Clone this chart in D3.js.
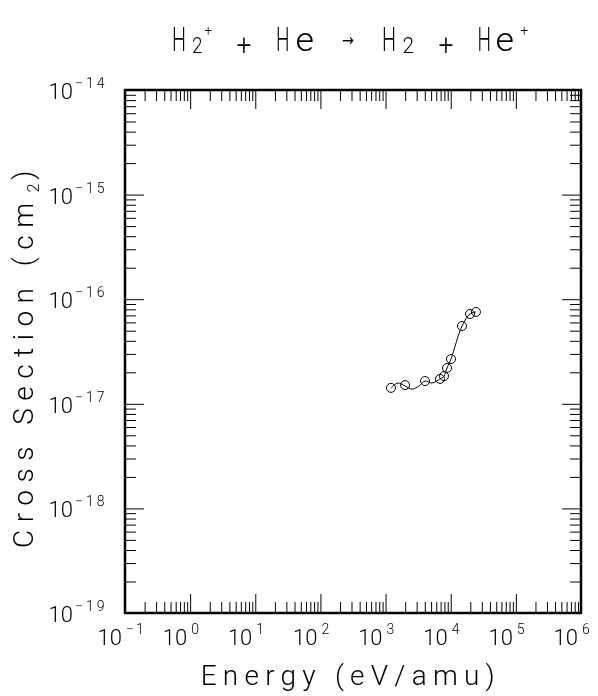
<!DOCTYPE html>
<html>
<head>
<meta charset="utf-8">
<script src="https://cdn.jsdelivr.net/npm/d3@7"></script>
<style>
  html, body { margin: 0; padding: 0; background: #fff; }
  #chart { will-change: transform; opacity: 0.999; }
  svg text { font-family: Roboto, "Liberation Sans", "DejaVu Sans", sans-serif; font-weight: 300; fill: #000; }
</style>
</head>
<body>
<svg id="chart" width="598" height="696"></svg>
<script>
// ---- data ----
const energies = [1.21e3, 1.99e3, 4.03e3, 6.85e3, 7.89e3, 8.78e3, 1.01e4, 1.49e4, 1.98e4, 2.44e4];
const crossSections = [1.42e-17, 1.51e-17, 1.65e-17, 1.73e-17, 1.84e-17, 2.2e-17, 2.68e-17, 5.54e-17, 7.22e-17, 7.55e-17];
// fitted curve drawn through the data
const fitEnergies = [1.21e3, 1.55e3, 1.99e3, 2.55e3, 3.26e3, 4.03e3, 5.16e3, 6.85e3, 7.89e3, 8.78e3, 1.01e4, 1.49e4, 1.98e4, 2.44e4];
const fitSections = [1.42e-17, 1.58e-17, 1.48e-17, 1.38e-17, 1.48e-17, 1.65e-17, 1.58e-17, 1.73e-17, 1.84e-17, 2.2e-17, 2.68e-17, 5.54e-17, 7.22e-17, 7.55e-17];
const xExponents = [-1, 0, 1, 2, 3, 4, 5, 6];
const yExponents = [-19, -18, -17, -16, -15, -14];
const xTitle = "Energy (eV/amu)";
const yTitle = "Cross Section (cm";
const yTitleSup = "2";
const yTitleEnd = ")";

// ---- layout ----
const svg = d3.select("#chart");
const X0 = 125, X1 = 581, Y0 = 90, Y1 = 613;
const x = d3.scaleLog().domain([1e-1, 1e6]).range([X0, X1]);
const y = d3.scaleLog().domain([1e-19, 1e-14]).range([Y1, Y0]);

const majorX = xExponents.map(e => Math.pow(10, e));
const majorY = yExponents.map(e => Math.pow(10, e));
const minorsOf = (exps) => {
  const out = [];
  for (let i = 0; i < exps.length - 1; i++)
    for (let m = 2; m <= 9; m++) out.push(m * Math.pow(10, exps[i]));
  return out;
};
const minorX = minorsOf(xExponents);
const minorY = minorsOf(yExponents);

const MAJ = 19, MIN = 11;
function addAxis(axisFn, scale, vals, len, transform) {
  const g = svg.append("g").attr("transform", transform)
    .call(axisFn(scale).tickValues(vals).tickSize(len).tickFormat(""));
  g.select(".domain").remove();
  g.selectAll(".tick line").attr("stroke", "#000").attr("stroke-width", 1);
  g.selectAll(".tick text").remove();
}
addAxis(d3.axisBottom, x, majorX, -MAJ, `translate(0,${Y1})`);
addAxis(d3.axisBottom, x, minorX, -MIN, `translate(0,${Y1})`);
addAxis(d3.axisTop, x, majorX, -MAJ, `translate(0,${Y0})`);
addAxis(d3.axisTop, x, minorX, -MIN, `translate(0,${Y0})`);
addAxis(d3.axisLeft, y, majorY, -MAJ, `translate(${X0},0)`);
addAxis(d3.axisLeft, y, minorY, -MIN, `translate(${X0},0)`);
addAxis(d3.axisRight, y, majorY, -MAJ, `translate(${X1},0)`);
addAxis(d3.axisRight, y, minorY, -MIN, `translate(${X1},0)`);

// frame
svg.append("rect").attr("x", X0).attr("y", Y0).attr("width", X1 - X0).attr("height", Y1 - Y0)
  .attr("fill", "none").attr("stroke", "#000").attr("stroke-width", 2.5);

const fmtExp = e => (e < 0 ? "\u2212" + Math.abs(e) : String(e));

// x tick labels
xExponents.forEach(e => {
  const t = x(Math.pow(10, e));
  svg.append("text").attr("x", t - 3).attr("y", 645).attr("text-anchor", "end")
    .attr("font-size", 22).text("10");
  svg.append("text").attr("x", t + 1).attr("y", 634).attr("text-anchor", "start")
    .attr("font-size", 14).attr("letter-spacing", 2).text(fmtExp(e));
});
// y tick labels
yExponents.forEach(e => {
  const t = y(Math.pow(10, e));
  svg.append("text").attr("x", X0 - 52).attr("y", t + 9).attr("text-anchor", "end")
    .attr("font-size", 22).text("10");
  svg.append("text").attr("x", X0 - 50).attr("y", t - 2).attr("text-anchor", "start")
    .attr("font-size", 14).attr("letter-spacing", 3).text(fmtExp(e));
});

// title, glyph by glyph (narrow stroke-font look), squeezed horizontally by a transform
const titleGlyphs = [
  { t: "H", x: 172, w: 14, b: 50.7, s: 33 },
  { t: "2", x: 192, w: 10.5, b: 53.3, s: 22 },
  { t: "+", x: 204.5, w: 7.5, b: 35, s: 15 },
  { t: "+", x: 236.5, w: 15, b: 55, s: 30 },
  { t: "H", x: 276, w: 13.5, b: 50.7, s: 33 },
  { t: "e", x: 295.5, w: 18.5, b: 50.7, s: 33 },
  { t: "\u2192", x: 342, w: 12, b: 46, s: 17 },
  { t: "H", x: 382, w: 14, b: 50.7, s: 33 },
  { t: "2", x: 402.5, w: 11.5, b: 53.3, s: 22 },
  { t: "+", x: 438.5, w: 15, b: 55, s: 30 },
  { t: "H", x: 477.5, w: 13.5, b: 50.7, s: 33 },
  { t: "e", x: 495.5, w: 18.5, b: 50.7, s: 33 },
  { t: "+", x: 520.2, w: 8, b: 35, s: 15 }
];
const tg = svg.append("g");
titleGlyphs.forEach(d => {
  const el = tg.append("text").attr("font-size", d.s).text(d.t);
  if (d.t === "\u2192") el.style("font-family", "'DejaVu Sans', sans-serif").style("font-weight", 400);
  const bb = el.node().getBBox();
  const sx = d.w / bb.width;
  el.attr("transform", `translate(${d.x - bb.x * sx},${d.b}) scale(${sx},1)`);
});

// axis titles
svg.append("text").attr("x", 200.7).attr("y", 685).attr("font-size", 28)
  .attr("textLength", 294).attr("lengthAdjust", "spacing").text(xTitle);

const yt = svg.append("text").attr("transform", "translate(33,548) rotate(-90)")
  .attr("x", 0).attr("y", 0).attr("font-size", 28);
yt.append("tspan").attr("textLength", 345).attr("lengthAdjust", "spacing").text(yTitle);
yt.append("tspan").attr("font-size", 16).attr("dy", 6).attr("dx", 3).text(yTitleSup);
yt.append("tspan").attr("dy", -6).attr("dx", 4).text(yTitleEnd);

// fitted curve
const pts = fitEnergies.map((e, i) => [x(e), y(fitSections[i])]);
svg.append("path").attr("d", d3.line().curve(d3.curveCatmullRom)(pts))
  .attr("fill", "none").attr("stroke", "#000").attr("stroke-width", 1);

// data circles
svg.append("g").selectAll("circle").data(energies).join("circle")
  .attr("cx", d => x(d)).attr("cy", (d, i) => y(crossSections[i])).attr("r", 4.5)
  .attr("fill", "none").attr("stroke", "#000").attr("stroke-width", 1);
</script>
</body>
</html>
